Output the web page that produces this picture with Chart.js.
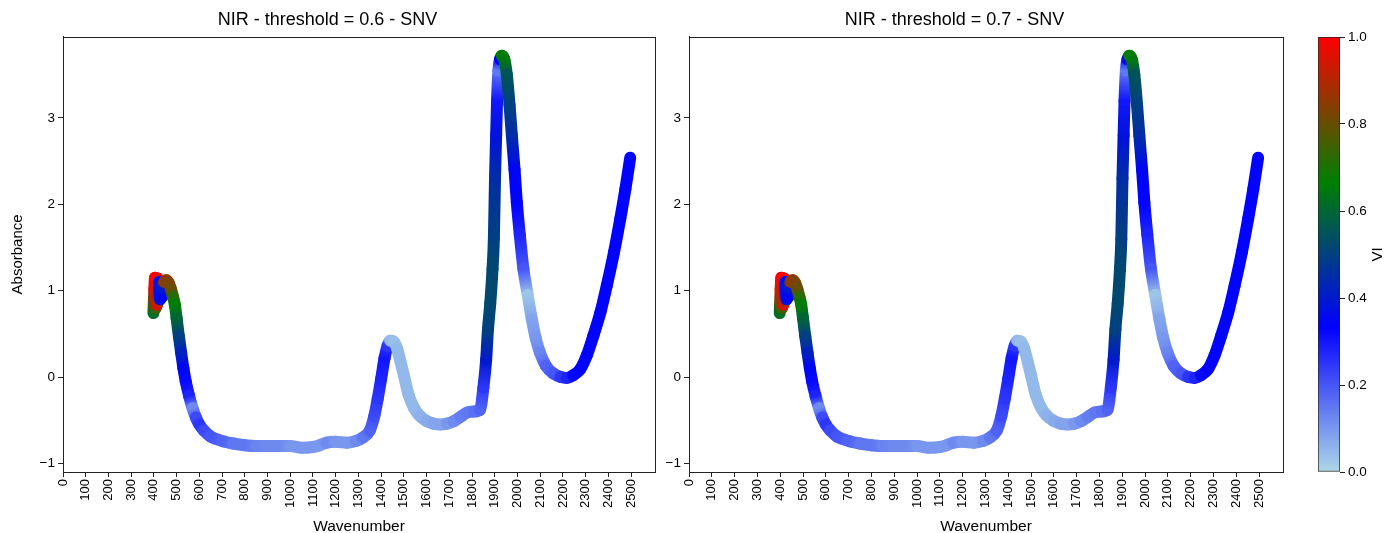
<!DOCTYPE html>
<html><head><meta charset="utf-8">
<script src="https://cdn.jsdelivr.net/npm/chart.js@4.4.1/dist/chart.umd.min.js"></script>
<style>
html,body{margin:0;padding:0;background:#fff;width:1386px;height:533px;overflow:hidden;}
canvas{position:absolute;top:0;}
</style></head><body>
<canvas id="c1" width="718" height="533" style="left:0px;width:718px;height:533px"></canvas>
<canvas id="c2" width="720" height="533" style="left:626px;width:720px;height:533px"></canvas>
<canvas id="c3" width="86" height="533" style="left:1300px;width:86px;height:533px"></canvas>
<script>
// ---- data ----
const wavenumber = [398,402,405,408,411,414,417,420,424,428,432,436,441,446,455,465,475,485,492,500,510,520,530,540,555,570,585,600,620,650,700,750,800,850,900,950,1000,1050,1100,1130,1160,1200,1250,1290,1320,1350,1370,1385,1400,1415,1428,1440,1455,1470,1485,1500,1520,1545,1570,1600,1630,1660,1690,1720,1750,1780,1810,1835,1850,1862,1870,1880,1890,1896,1901,1906,1910,1916,1923,1931,1942,1953,1965,1975,1987,1997,2010,2026,2045,2063,2080,2099,2125,2158,2190,2217,2245,2276,2305,2334,2365,2393,2425,2452,2475,2496];
const absorbance = [0.74,1.02,1.15,0.80,1.13,0.84,1.14,0.88,1.10,0.90,1.06,0.93,1.04,1.10,1.12,1.09,1.02,0.92,0.84,0.68,0.47,0.28,0.10,-0.05,-0.22,-0.36,-0.47,-0.55,-0.62,-0.69,-0.74,-0.77,-0.79,-0.80,-0.80,-0.80,-0.80,-0.82,-0.81,-0.79,-0.76,-0.75,-0.76,-0.74,-0.70,-0.62,-0.45,-0.25,-0.02,0.22,0.36,0.42,0.41,0.33,0.18,0.02,-0.20,-0.36,-0.45,-0.51,-0.54,-0.55,-0.54,-0.51,-0.46,-0.41,-0.40,-0.38,-0.12,0.20,0.55,0.85,1.25,1.60,2.30,2.80,3.20,3.55,3.68,3.72,3.68,3.50,3.15,2.80,2.40,2.02,1.65,1.25,0.95,0.67,0.45,0.28,0.13,0.04,0.00,-0.01,0.02,0.09,0.25,0.48,0.75,1.06,1.45,1.83,2.18,2.54];
const viValues = [0.62,0.95,1.0,0.75,1.0,0.95,0.98,0.9,0.35,0.38,0.4,0.35,0.4,0.85,0.85,0.83,0.8,0.72,0.66,0.6,0.5,0.42,0.35,0.32,0.28,0.12,0.22,0.25,0.22,0.2,0.18,0.15,0.15,0.13,0.12,0.12,0.1,0.1,0.1,0.1,0.12,0.1,0.1,0.12,0.15,0.18,0.22,0.25,0.28,0.3,0.25,0.05,0.04,0.05,0.05,0.05,0.05,0.05,0.06,0.07,0.08,0.08,0.1,0.12,0.14,0.15,0.16,0.18,0.25,0.4,0.5,0.52,0.52,0.5,0.45,0.38,0.3,0.15,0.35,0.66,0.65,0.55,0.5,0.45,0.35,0.33,0.28,0.2,0.03,0.08,0.1,0.13,0.18,0.2,0.25,0.28,0.32,0.33,0.33,0.33,0.33,0.33,0.33,0.33,0.33,0.33];
const xTickValues = [0,100,200,300,400,500,600,700,800,900,1000,1100,1200,1300,1400,1500,1600,1700,1800,1900,2000,2100,2200,2300,2400,2500];
const yTickValues = [-1,0,1,2,3];
const cbTickValues = [0,0.2,0.4,0.6,0.8,1.0];
const panelTitles = ['NIR - threshold = 0.6 - SNV','NIR - threshold = 0.7 - SNV'];

// ---- colormap: lightblue -> blue -> green -> red ----
const cmapStops = [[173,216,230],[0,0,255],[0,128,0],[255,0,0]];
function cmap(v){
  v = Math.max(0, Math.min(1, v));
  const s = v * 3; const i = Math.min(2, Math.floor(s)); const t = s - i;
  const a = cmapStops[i], b = cmapStops[i+1];
  return 'rgb(' + [0,1,2].map(k => Math.round(a[k] + (b[k]-a[k])*t)).join(',') + ')';
}

const FONT = "'Liberation Sans', Arial, Helvetica, sans-serif";
const AX = '#222';

const framePlugin = {
  id: 'frame',
  afterDraw(chart){
    const {ctx, chartArea: a} = chart;
    ctx.save();
    ctx.strokeStyle = AX; ctx.lineWidth = 1;
    ctx.strokeRect(Math.round(a.left)+0.5, Math.round(a.top)+0.5, Math.round(a.right-a.left), Math.round(a.bottom-a.top));
    ctx.restore();
  }
};

function makePanel(id, title, showYTitle){
  const pts = wavenumber.map((w,i) => ({x: w, y: absorbance[i]}));
  return new Chart(document.getElementById(id), {
    type: 'scatter',
    data: { datasets: [{
      data: pts,
      showLine: true,
      pointRadius: 0,
      borderWidth: 12,
      borderCapStyle: 'round',
      borderJoinStyle: 'round',
      cubicInterpolationMode: 'monotone',
      borderColor: '#0000ff',
      segment: {
        borderColor: (c) => {
          const g = c.chart.ctx.createLinearGradient(c.p0.x, c.p0.y, c.p1.x, c.p1.y);
          g.addColorStop(0, cmap(viValues[c.p0DataIndex]));
          g.addColorStop(1, cmap(viValues[c.p1DataIndex]));
          return g;
        }
      }
    }]},
    options: {
      responsive: false, animation: false, devicePixelRatio: 1,
      layout: { padding: { left: 0, right: 63, top: 0, bottom: 0 } },
      plugins: {
        legend: { display: false }, tooltip: { enabled: false },
        title: { display: true, text: title, color: '#000', font: { family: FONT, size: 18, weight: 'normal', lineHeight: 1.1 }, padding: { top: 10, bottom: 7 } }
      },
      scales: {
        x: {
          type: 'linear', min: 0, max: 2605,
          afterBuildTicks: (axis) => { axis.ticks = xTickValues.map(v => ({value: v})); },
          afterFit: (axis) => { axis.height = 61; },
          ticks: { color: '#000', font: { family: FONT, size: 13 }, minRotation: 90, maxRotation: 90, padding: 2, autoSkip: false, callback: (v) => String(v) },
          grid: { drawOnChartArea: false, drawTicks: true, tickLength: 5, color: AX },
          border: { display: true, color: AX, width: 1 },
          title: { display: true, text: 'Wavenumber', color: '#000', font: { family: FONT, size: 15.5, lineHeight: 0.8 }, padding: { top: 0, bottom: 0 } }
        },
        y: {
          type: 'linear', min: -1.10, max: 3.94,
          afterBuildTicks: (axis) => { axis.ticks = yTickValues.map(v => ({value: v})); },
          afterFit: (axis) => { axis.width = 63; },
          ticks: { color: '#000', font: { family: FONT, size: 13.5 }, padding: 3, callback: (v) => String(v).replace('-', '\u2212') },
          grid: { drawOnChartArea: false, drawTicks: true, tickLength: 5, color: AX },
          border: { display: true, color: AX, width: 1 },
          title: { display: showYTitle, text: 'Absorbance', color: '#000', font: { family: FONT, size: 15 }, padding: { top: 9, bottom: 0 } }
        }
      }
    },
    plugins: [framePlugin]
  });
}

makePanel('c1', panelTitles[0], true);
makePanel('c2', panelTitles[1], false);

// ---- colorbar ----
const cbLabelPlugin = {
  id: 'cbLabel',
  afterDraw(chart){
    const {ctx, chartArea: a} = chart;
    ctx.save();
    ctx.translate(78, (a.top + a.bottom) / 2);
    ctx.rotate(-Math.PI / 2);
    ctx.fillStyle = '#000'; ctx.font = '15px ' + FONT;
    ctx.textAlign = 'center'; ctx.textBaseline = 'middle';
    ctx.fillText('VI', 0, 0);
    ctx.restore();
  }
};
new Chart(document.getElementById('c3'), {
  type: 'bar',
  data: { labels: ['VI'], datasets: [{
    data: [[0, 1]],
    categoryPercentage: 1, barPercentage: 1,
    borderWidth: 1, borderColor: AX, borderSkipped: false,
    backgroundColor: (c) => {
      const a = c.chart.chartArea;
      if (!a) return '#0000ff';
      const g = c.chart.ctx.createLinearGradient(0, a.bottom, 0, a.top);
      for (let i = 0; i <= 30; i++) g.addColorStop(i/30, cmap(i/30));
      return g;
    }
  }]},
  options: {
    responsive: false, animation: false, devicePixelRatio: 1,
    layout: { padding: { left: 18, right: 0, top: 37, bottom: 61 } },
    plugins: { legend: { display: false }, tooltip: { enabled: false } },
    scales: {
      x: { display: false },
      y: {
        position: 'right', min: 0, max: 1,
        afterBuildTicks: (axis) => { axis.ticks = cbTickValues.map(v => ({value: v})); },
        afterFit: (axis) => { axis.width = 46; },
        ticks: { color: '#000', font: { family: FONT, size: 13.5 }, padding: 3, callback: (v) => Number(v).toFixed(1) },
        grid: { drawOnChartArea: false, drawTicks: true, tickLength: 5, color: AX },
        border: { display: false }
      }
    }
  },
  plugins: [cbLabelPlugin]
});
</script>
</body></html>
